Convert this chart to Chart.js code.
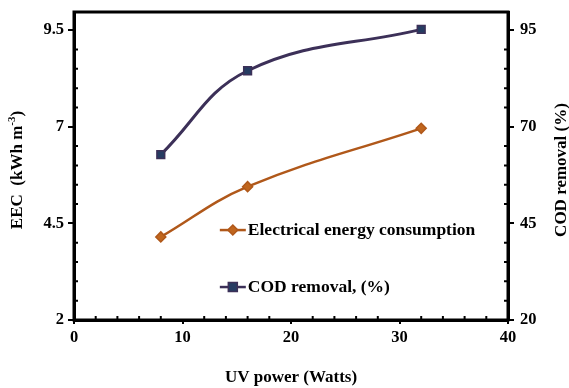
<!DOCTYPE html>
<html>
<head>
<meta charset="utf-8">
<script src="https://cdn.jsdelivr.net/npm/chart.js@4.4.1/dist/chart.umd.min.js"></script>
<style>
  html, body { margin: 0; padding: 0; background: #fff; }
  #wrap { width: 569px; height: 388px; }
</style>
</head>
<body>
<div id="wrap"><canvas id="grafica"></canvas></div>
<script>
// datos
var uvPower = [8, 16, 32];
var eecValues = [4.15, 5.45, 6.96];
var codValues = [62.8, 84.5, 95.2];
var xTicks = [0, 10, 20, 30, 40];
var eecTicks = [2, 4.5, 7, 9.5];
var codTicks = [20, 45, 70, 95];

var FONT = '"Liberation Serif", "Times New Roman", serif';
var EEC_COLOR = '#b0581a';
var COD_COLOR = '#3c3058';

function toPoints(xs, ys) {
    return xs.map(function(x, i) { return { x: x, y: ys[i] }; });
}

function fixTicks(values) {
    return function(scale) {
        scale.ticks = values.map(function(v) { return { value: v }; });
    };
}

function fitY(width) {
    return function(s) {
        s.width = width;
        s.paddingTop = 0;
        s.paddingBottom = 0;
    };
}

// marco, ticks menores, leyenda y titulos de ejes Y
var extras = {
    id: 'extras',
    afterDraw: function(chart) {
        var ctx = chart.ctx;
        var a = chart.chartArea;
        var sx = chart.scales.x, sl = chart.scales.yLeft, sr = chart.scales.yRight;
        ctx.save();
        ctx.strokeStyle = '#000';
        ctx.lineWidth = 3;
        ctx.strokeRect(a.left, a.top, a.right - a.left, a.bottom - a.top);

        // ticks menores hacia adentro
        ctx.lineWidth = 2;
        ctx.beginPath();
        for (var v = 2; v < 40; v += 2) {
            if (v % 10 === 0) continue;
            var px = sx.getPixelForValue(v);
            ctx.moveTo(px, a.bottom); ctx.lineTo(px, a.bottom - 4);
        }
        for (var e = 2.5; e < 9.5; e += 0.5) {
            if (Math.abs((e - 2) % 2.5) < 0.01) continue;
            var py = sl.getPixelForValue(e);
            ctx.moveTo(a.left, py); ctx.lineTo(a.left + 4, py);
        }
        for (var c = 25; c < 95; c += 5) {
            if ((c - 20) % 25 === 0) continue;
            var pr = sr.getPixelForValue(c);
            ctx.moveTo(a.right, pr); ctx.lineTo(a.right - 4, pr);
        }
        ctx.stroke();

        // leyenda dentro del area
        var lx = a.left + (a.right - a.left) * 0.336;
        var rows = [a.top + (a.bottom - a.top) * 0.708, a.top + (a.bottom - a.top) * 0.893];
        chart.data.datasets.forEach(function(ds, i) {
            var y = rows[i];
            ctx.strokeStyle = ds.borderColor;
            ctx.lineWidth = 2.5;
            ctx.beginPath();
            ctx.moveTo(lx, y); ctx.lineTo(lx + 26, y);
            ctx.stroke();
            ctx.fillStyle = ds.pointBackgroundColor;
            ctx.strokeStyle = ds.pointBorderColor;
            ctx.lineWidth = 1.5;
            ctx.beginPath();
            if (ds.pointStyle === 'rect') {
                ctx.rect(lx + 13 - 4.5, y - 4.5, 9, 9);
            } else {
                ctx.moveTo(lx + 13, y - 5); ctx.lineTo(lx + 18, y);
                ctx.lineTo(lx + 13, y + 5); ctx.lineTo(lx + 8, y);
                ctx.closePath();
            }
            ctx.fill(); ctx.stroke();
            ctx.fillStyle = '#000';
            ctx.font = 'bold 17.5px ' + FONT;
            ctx.textBaseline = 'middle';
            ctx.textAlign = 'left';
            ctx.fillText(ds.label, lx + 28, y);
        });
        ctx.restore();

        // titulo eje derecho (leido de abajo hacia arriba)
        ctx.save();
        ctx.translate(562, (a.top + a.bottom) / 2 + 4);
        ctx.rotate(-Math.PI / 2);
        ctx.fillStyle = '#000';
        ctx.textBaseline = 'middle';
        ctx.textAlign = 'center';
        ctx.font = 'bold 17px ' + FONT;
        ctx.fillText('COD removal (%)', 0, 0);
        ctx.restore();

        // titulo eje izquierdo con superindice
        ctx.save();
        ctx.translate(18, (a.top + a.bottom) / 2 + 4);
        ctx.rotate(-Math.PI / 2);
        ctx.fillStyle = '#000';
        ctx.textBaseline = 'middle';
        var t1 = 'EEC  (kWh m';
        var t2 = '-3';
        var t3 = ')';
        ctx.font = 'bold 17px ' + FONT;
        var w1 = ctx.measureText(t1).width;
        ctx.font = 'bold 11px ' + FONT;
        var w2 = ctx.measureText(t2).width;
        ctx.font = 'bold 17px ' + FONT;
        var w3 = ctx.measureText(t3).width;
        var start = -(w1 + w2 + w3) / 2;
        ctx.textAlign = 'left';
        ctx.fillText(t1, start, 0);
        ctx.font = 'bold 11px ' + FONT;
        ctx.fillText(t2, start + w1, -6);
        ctx.font = 'bold 17px ' + FONT;
        ctx.fillText(t3, start + w1 + w2, 0);
        ctx.restore();
    }
};

function render_graph() {
    var ctx = document.getElementById('grafica').getContext('2d');
    window.eecChart = new Chart(ctx, {
        type: 'line',
        data: {
            datasets: [{
                label: 'Electrical energy consumption',
                data: toPoints(uvPower, eecValues),
                yAxisID: 'yLeft',
                borderColor: EEC_COLOR,
                borderWidth: 2.5,
                pointStyle: 'rectRot',
                pointRadius: 5,
                pointBackgroundColor: '#c0661e',
                pointBorderColor: EEC_COLOR,
                pointBorderWidth: 1.5,
                tension: 0.4,
                fill: false
            }, {
                label: 'COD removal, (%)',
                data: toPoints(uvPower, codValues),
                yAxisID: 'yRight',
                borderColor: COD_COLOR,
                borderWidth: 3,
                pointStyle: 'rect',
                pointRadius: 5.5,
                pointBackgroundColor: '#263c62',
                pointBorderColor: COD_COLOR,
                pointBorderWidth: 1.5,
                tension: 0.4,
                fill: false
            }]
        },
        options: {
            responsive: true,
            maintainAspectRatio: false,
            animation: false,
            layout: { padding: { top: 12, bottom: 0, left: 0, right: 0 } },
            plugins: {
                legend: { display: false },
                tooltip: { enabled: false }
            },
            scales: {
                x: {
                    type: 'linear',
                    min: 0, max: 40,
                    afterBuildTicks: fixTicks(xTicks),
                    afterFit: function(s) { s.height = 68; },
                    border: { color: '#000', width: 3 },
                    grid: { drawOnChartArea: false, color: '#000', lineWidth: 2, tickLength: 4 },
                    ticks: { color: '#000', font: { family: FONT, size: 16.5, weight: 'bold' }, padding: 4, maxRotation: 0 },
                    title: { display: true, text: 'UV power (Watts)', color: '#000', font: { family: FONT, size: 17, weight: 'bold' }, padding: { top: 12, bottom: 0 } }
                },
                yLeft: {
                    type: 'linear',
                    position: 'left',
                    min: 2, max: 9.97,
                    afterBuildTicks: fixTicks(eecTicks),
                    afterFit: fitY(74),
                    border: { color: '#000', width: 3 },
                    grid: { drawOnChartArea: false, color: '#000', lineWidth: 2, tickLength: 6 },
                    ticks: { color: '#000', font: { family: FONT, size: 16.5, weight: 'bold' }, padding: 4 }
                },
                yRight: {
                    type: 'linear',
                    position: 'right',
                    min: 20, max: 99.7,
                    afterBuildTicks: fixTicks(codTicks),
                    afterFit: fitY(61),
                    border: { color: '#000', width: 3 },
                    grid: { drawOnChartArea: false, color: '#000', lineWidth: 2, tickLength: 6 },
                    ticks: { color: '#000', font: { family: FONT, size: 16.5, weight: 'bold' }, padding: 6 }
                }
            }
        },
        plugins: [extras]
    });
}

render_graph();
</script>
</body>
</html>
